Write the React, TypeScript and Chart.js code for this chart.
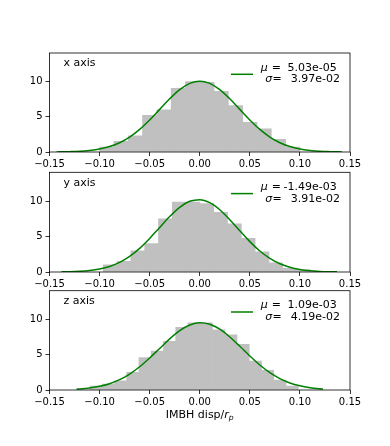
import React, { useEffect, useRef } from 'react';
import { Chart, registerables } from 'chart.js';

Chart.register(...registerables);

const FONT = '"DejaVu Sans", "Liberation Sans", sans-serif';

const X_TICKS = [-0.15, -0.1, -0.05, 0, 0.05, 0.1, 0.15];
const X_TICK_LABELS = ['−0.15', '−0.10', '−0.05', '0.00', '0.05', '0.10', '0.15'];
const Y_TICKS = [0, 5, 10];
const Y_TICK_LABELS = ['0', '5', '10'];

// histogram bin centres and densities
const XAXIS_BIN_CENTERS = [-0.092857, -0.078571, -0.064286, -0.05, -0.035714, -0.021429, -0.007143, 0.007143, 0.021429, 0.035714, 0.05, 0.064286, 0.078571, 0.092857];
const XAXIS_BIN_HEIGHTS = [0.7, 1.5, 2.3, 5.2, 6.0, 9.05, 10.0, 9.9, 8.6, 6.6, 4.2, 3.3, 1.8, 0.7];

const YAXIS_BIN_CENTERS = [-0.08941, -0.07563, -0.06185, -0.04807, -0.03429, -0.02051, -0.00673, 0.00705, 0.02083, 0.03461, 0.04839, 0.06217, 0.07595, 0.08973, 0.10351];
const YAXIS_BIN_HEIGHTS = [1.0, 1.5, 3.0, 4.0, 7.5, 9.85, 9.85, 9.65, 8.4, 6.8, 4.75, 2.85, 1.3, 0.5, 0.35];

const ZAXIS_BIN_CENTERS = [-0.103485, -0.091255, -0.079025, -0.066795, -0.054565, -0.042335, -0.030105, -0.017875, -0.005645, 0.006585, 0.018815, 0.031045, 0.043275, 0.055505, 0.067735, 0.079965, 0.092195];
const ZAXIS_BIN_HEIGHTS = [0.55, 0.85, 1.3, 2.5, 4.6, 5.5, 6.9, 8.85, 9.5, 9.5, 8.5, 7.8, 6.45, 4.1, 2.8, 1.4, 0.55];

// fitted normal curves
const XAXIS_FIT_X = [-0.143, -0.13, -0.12, -0.11, -0.1, -0.09, -0.08, -0.07, -0.06, -0.05, -0.04, -0.03, -0.02, -0.01, 0, 0.01, 0.02, 0.03, 0.04, 0.05, 0.06, 0.07, 0.08, 0.09, 0.1, 0.11, 0.12, 0.13, 0.142];
const XAXIS_FIT_Y = [0.015, 0.05, 0.1, 0.22, 0.42, 0.77, 1.32, 2.12, 3.21, 4.55, 6.05, 7.55, 8.85, 9.74, 10.05, 9.74, 8.85, 7.55, 6.05, 4.55, 3.21, 2.12, 1.32, 0.77, 0.42, 0.22, 0.1, 0.05, 0.017];

const YAXIS_FIT_X = [-0.138, -0.13, -0.12, -0.11, -0.1, -0.09, -0.08, -0.07, -0.06, -0.05, -0.04, -0.03, -0.02, -0.01, 0, 0.01, 0.02, 0.03, 0.04, 0.05, 0.06, 0.07, 0.08, 0.09, 0.1, 0.11, 0.12, 0.13, 0.137];
const YAXIS_FIT_Y = [0.023, 0.046, 0.103, 0.217, 0.427, 0.787, 1.36, 2.2, 3.33, 4.73, 6.28, 7.82, 9.12, 9.96, 10.19, 9.77, 8.77, 7.37, 5.81, 4.28, 2.96, 1.92, 1.16, 0.66, 0.35, 0.175, 0.082, 0.036, 0.019];

const ZAXIS_FIT_X = [-0.123, -0.12, -0.11, -0.1, -0.09, -0.08, -0.07, -0.06, -0.05, -0.04, -0.03, -0.02, -0.01, 0, 0.01, 0.02, 0.03, 0.04, 0.05, 0.06, 0.07, 0.08, 0.09, 0.1, 0.11, 0.12, 0.123];
const ZAXIS_FIT_Y = [0.119, 0.146, 0.283, 0.518, 0.895, 1.46, 2.26, 3.29, 4.53, 5.88, 7.23, 8.39, 9.19, 9.52, 9.31, 8.6, 7.5, 6.19, 4.82, 3.54, 2.46, 1.62, 1.0, 0.59, 0.325, 0.17, 0.138];

const PANEL_LABELS = ['x axis', 'y axis', 'z axis'];
const MU_LABELS = ['5.03e-05', '-1.49e-03', '1.09e-03'];
const SIGMA_LABELS = ['3.97e-02', '3.91e-02', '4.19e-02'];
const XLABEL_MAIN = 'IMBH disp/';
const XLABEL_VAR = 'r';
const XLABEL_SUB = 'p';

const PANELS = [
  { centers: XAXIS_BIN_CENTERS, heights: XAXIS_BIN_HEIGHTS, fitX: XAXIS_FIT_X, fitY: XAXIS_FIT_Y },
  { centers: YAXIS_BIN_CENTERS, heights: YAXIS_BIN_HEIGHTS, fitX: YAXIS_FIT_X, fitY: YAXIS_FIT_Y },
  { centers: ZAXIS_BIN_CENTERS, heights: ZAXIS_BIN_HEIGHTS, fitX: ZAXIS_FIT_X, fitY: ZAXIS_FIT_Y },
];

// layout
const AXES_TOPS = [53, 172.3, 290.7];
const AXES_H = 99;
const AXES_LEFT = 49.5;
const AXES_RIGHT = 350;
const W = 390;

function layoutFor(i: number) {
  const canvasTop = Math.floor(AXES_TOPS[i]) - 12;
  const padTop = AXES_TOPS[i] - canvasTop;
  const bottomSpace = i === 2 ? 44 : 24;
  const height = Math.ceil(padTop + AXES_H + bottomSpace);
  return { canvasTop, padTop, bottomSpace, height };
}

function decorPlugin(i: number) {
  return {
    id: 'decor' + i,
    afterDatasetsDraw(chart: any) {
      const { ctx, chartArea: a } = chart;
      ctx.save();
      ctx.strokeStyle = '#000';
      ctx.lineWidth = 0.8;
      ctx.strokeRect(a.left, a.top, a.right - a.left, a.bottom - a.top);

      ctx.fillStyle = '#000';
      ctx.textBaseline = 'middle';
      ctx.textAlign = 'left';
      ctx.font = `11px ${FONT}`;
      ctx.fillText(PANEL_LABELS[i], a.left + 14, a.top + 10.5);

      // legend handle
      ctx.strokeStyle = '#008000';
      ctx.lineWidth = 1.5;
      ctx.beginPath();
      ctx.moveTo(a.right - 119, a.top + 21.3);
      ctx.lineTo(a.right - 97, a.top + 21.3);
      ctx.stroke();

      const y1 = a.top + 14.7;
      const y2 = a.top + 26.5;
      ctx.font = `italic 11px ${FONT}`;
      ctx.fillText('μ', a.right - 89.3, y1);
      ctx.fillText('σ', a.right - 84.7, y2);
      ctx.font = `11px ${FONT}`;
      ctx.fillText('=', a.right - 78.3, y1);
      ctx.fillText('=', a.right - 77.5, y2);
      ctx.textAlign = 'right';
      ctx.fillText(MU_LABELS[i], a.right - 13.3, y1);
      ctx.fillText(SIGMA_LABELS[i], a.right - 10, y2);

      if (i === 2) {
        const cx = (a.left + a.right) / 2;
        const yl = a.bottom + 25.5;
        ctx.textAlign = 'left';
        ctx.font = `11px ${FONT}`;
        const w1 = ctx.measureText(XLABEL_MAIN).width;
        ctx.font = `italic 11px ${FONT}`;
        const w2 = ctx.measureText(XLABEL_VAR).width;
        ctx.font = `italic 7.7px ${FONT}`;
        const w3 = ctx.measureText(XLABEL_SUB).width;
        let x = cx - (w1 + w2 + w3) / 2;
        ctx.font = `11px ${FONT}`;
        ctx.fillText(XLABEL_MAIN, x, yl);
        x += w1;
        ctx.font = `italic 11px ${FONT}`;
        ctx.fillText(XLABEL_VAR, x, yl);
        x += w2;
        ctx.font = `italic 7.7px ${FONT}`;
        ctx.fillText(XLABEL_SUB, x, yl + 2.5);
      }
      ctx.restore();
    },
  };
}

function makeChart(canvas: HTMLCanvasElement, i: number) {
  const p = PANELS[i];
  const L = layoutFor(i);
  const tickFont = { family: FONT, size: 10 };
  const gridOpts = {
    display: true,
    drawOnChartArea: false,
    drawTicks: true,
    tickLength: 4,
    tickWidth: 0.8,
    tickColor: '#000',
    offset: false,
  };
  return new Chart(canvas, {
    type: 'bar',
    data: {
      datasets: [
        {
          type: 'line',
          data: p.fitX.map((x, k) => ({ x, y: p.fitY[k] })),
          borderColor: '#008000',
          borderWidth: 1.5,
          pointRadius: 0,
          fill: false,
          cubicInterpolationMode: 'monotone',
          order: 1,
        } as any,
        {
          type: 'bar',
          data: p.centers.map((x, k) => ({ x, y: p.heights[k] })),
          backgroundColor: '#c0c0c0',
          borderWidth: 0,
          barPercentage: 1,
          categoryPercentage: 1,
          order: 2,
        } as any,
      ],
    },
    options: {
      animation: false,
      responsive: false,
      devicePixelRatio: 1,
      events: [],
      layout: { padding: { top: L.padTop, left: 0, right: W - AXES_RIGHT, bottom: 0 } },
      plugins: { legend: { display: false }, tooltip: { enabled: false } },
      scales: {
        x: {
          type: 'linear',
          min: -0.15,
          max: 0.15,
          offset: false,
          afterFit: (s: any) => { s.height = L.bottomSpace; },
          afterBuildTicks: (s: any) => { s.ticks = X_TICKS.map((v) => ({ value: v })); },
          ticks: {
            callback: (_v: any, idx: number) => X_TICK_LABELS[idx],
            font: tickFont,
            color: '#000',
            padding: 2,
            maxRotation: 0,
            autoSkip: false,
          },
          grid: gridOpts,
          border: { display: false },
        },
        y: {
          type: 'linear',
          min: 0,
          max: 14.05,
          afterFit: (s: any) => { s.width = AXES_LEFT; },
          afterBuildTicks: (s: any) => { s.ticks = Y_TICKS.map((v) => ({ value: v })); },
          ticks: {
            callback: (_v: any, idx: number) => Y_TICK_LABELS[idx],
            font: tickFont,
            color: '#000',
            padding: 3,
          },
          grid: gridOpts,
          border: { display: false },
        },
      },
    } as any,
    plugins: [decorPlugin(i)],
  });
}

export default function App() {
  const r0 = useRef<HTMLCanvasElement>(null);
  const r1 = useRef<HTMLCanvasElement>(null);
  const r2 = useRef<HTMLCanvasElement>(null);
  useEffect(() => {
    const refs = [r0, r1, r2];
    const charts = refs.map((r, i) => makeChart(r.current as HTMLCanvasElement, i));
    return () => charts.forEach((c) => c.destroy());
  }, []);
  const refs = [r0, r1, r2];
  return (
    <div style={{ position: 'absolute', left: 0, top: 0, width: W, height: 446, background: '#fff' }}>
      {refs.map((r, i) => {
        const L = layoutFor(i);
        return (
          <canvas
            key={i}
            ref={r}
            width={W}
            height={L.height}
            style={{ position: 'absolute', left: 0, top: L.canvasTop, width: W, height: L.height }}
          />
        );
      })}
    </div>
  );
}
